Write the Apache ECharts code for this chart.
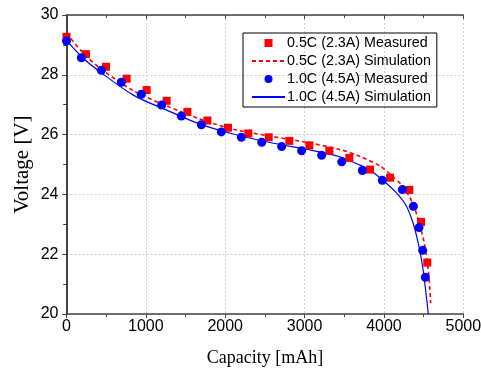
<!DOCTYPE html>
<html><head><meta charset="utf-8">
<script src="https://cdn.jsdelivr.net/npm/echarts@6/dist/echarts.min.js"></script>
<style>html,body{margin:0;padding:0;background:#fff}#c{width:481px;height:370px}</style>
</head><body><div id="c"></div>
<script>
const redMeasX = [0, 246, 498, 758, 1010, 1262, 1523, 1775, 2035, 2291, 2548, 2808, 3060, 3312, 3564, 3825, 4077, 4320, 4467, 4546];
const redMeasY = [29.27, 28.69, 28.27, 27.87, 27.49, 27.13, 26.76, 26.47, 26.23, 26.04, 25.91, 25.79, 25.64, 25.46, 25.22, 24.83, 24.56, 24.15, 23.08, 21.72];
const blueMeasX = [0, 187, 439, 691, 943, 1199, 1447, 1699, 1951, 2203, 2460, 2711, 2963, 3215, 3468, 3728, 3979, 4232, 4371, 4442, 4488, 4522];
const blueMeasY = [29.13, 28.57, 28.15, 27.75, 27.35, 26.99, 26.62, 26.33, 26.09, 25.91, 25.74, 25.60, 25.46, 25.31, 25.09, 24.80, 24.47, 24.16, 23.60, 22.89, 22.13, 21.23];
const redSimX = [0, 200, 422, 842, 1262, 1682, 2102, 2606, 3027, 3446, 3698, 3950, 4100, 4245, 4371, 4446, 4509, 4559, 4589];
const redSimY = [29.39, 28.76, 28.22, 27.47, 26.96, 26.52, 26.18, 25.93, 25.74, 25.50, 25.27, 24.95, 24.62, 24.25, 23.65, 23.03, 22.36, 21.47, 20.36];
const blueSimX = [0, 200, 422, 842, 1262, 1682, 2102, 2606, 3027, 3446, 3698, 3824, 3976, 4140, 4270, 4360, 4433, 4488, 4530, 4559];
const blueSimY = [29.15, 28.58, 28.10, 27.32, 26.82, 26.35, 26.02, 25.71, 25.51, 25.26, 24.98, 24.82, 24.50, 24.10, 23.67, 23.10, 22.36, 21.58, 20.69, 20.0];
const names = ['0.5C (2.3A) Measured', '0.5C (2.3A) Simulation', '1.0C (4.5A) Measured', '1.0C (4.5A) Simulation'];
const xTitle = 'Capacity [mAh]';
const yTitle = 'Voltage [V]';

const zip = (a, b) => a.map((v, i) => [v, b[i]]);
const labelFont = {fontFamily: 'Liberation Sans, Arial, sans-serif', fontSize: 16, color: '#000', formatter: v => String(v)};
const nameFont = {fontFamily: 'Liberation Serif, Times New Roman, serif', color: '#000'};
const hidden = {color: 'rgba(0,0,0,0)', borderWidth: 0, borderColor: 'rgba(0,0,0,0)'};
const chart = echarts.init(document.getElementById('c'), null, {renderer: 'canvas'});
chart.setOption({
  animation: false,
  grid: {left: 66.5, right: 17.7, top: 15, bottom: 56, containLabel: false, outerBoundsMode: 'none'},
  legend: {
    left: 243, top: 33, orient: 'vertical',
    data: [
      {name: names[0], icon: 'path://M0,0h10v10h-10z'},
      {name: names[1], itemStyle: hidden},
      {name: names[2], icon: 'circle'},
      {name: names[3], itemStyle: hidden}
    ],
    symbolKeepAspect: true,
    borderColor: '#000', borderWidth: 1, padding: [3, 6, 3, 8], itemGap: 4,
    itemWidth: 33, itemHeight: 8,
    textStyle: {fontFamily: 'Liberation Sans, Arial, sans-serif', fontSize: 14.3, color: '#000', padding: [0, 0, 0, -3]}
  },
  xAxis: [{
    type: 'value', min: 0, max: 5000, interval: 1000,
    name: xTitle, nameLocation: 'middle', nameGap: 35, nameMoveOverlap: false,
    nameTextStyle: Object.assign({fontSize: 18}, nameFont),
    axisLine: {lineStyle: {color: '#444', width: 1.5}},
    axisTick: {show: true, length: 4, lineStyle: {color: '#444'}},
    minorTick: {show: true, splitNumber: 2, length: 3, lineStyle: {color: '#444'}},
    axisLabel: Object.assign({margin: 5}, labelFont),
    splitLine: {show: true, lineStyle: {color: '#cfcfcf', type: [2, 2], width: 1}}
  }, {
    type: 'value', min: 0, max: 5000, interval: 1000, position: 'top',
    axisLine: {show: true, lineStyle: {color: '#444', width: 1.5}},
    axisTick: {show: true, inside: true, length: 4, lineStyle: {color: '#444'}},
    minorTick: {show: true, splitNumber: 2, length: 3, lineStyle: {color: '#444'}},
    axisLabel: {show: false}, splitLine: {show: false}
  }],
  yAxis: [{
    type: 'value', min: 20, max: 30, interval: 2,
    name: yTitle, nameLocation: 'middle', nameGap: 34, nameRotate: 90, nameMoveOverlap: false,
    nameTextStyle: Object.assign({fontSize: 21}, nameFont),
    axisLine: {show: true, lineStyle: {color: '#000', width: 1.5}},
    axisTick: {show: true, length: 4, lineStyle: {color: '#000'}},
    minorTick: {show: true, splitNumber: 2, length: 3, lineStyle: {color: '#000'}},
    axisLabel: Object.assign({margin: 8}, labelFont),
    splitLine: {show: true, lineStyle: {color: '#cfcfcf', type: [2, 2], width: 1}}
  }, {
    type: 'value', min: 20, max: 30, interval: 2, position: 'right',
    axisLine: {show: true, lineStyle: {color: '#444', width: 1.5}},
    axisTick: {show: true, inside: true, length: 4, lineStyle: {color: '#444'}},
    minorTick: {show: true, splitNumber: 2, length: 3, lineStyle: {color: '#444'}},
    axisLabel: {show: false}, splitLine: {show: false}
  }],
  series: [
    {name: names[1], type: 'line', data: zip(redSimX, redSimY), showSymbol: false, symbol: 'none',
     smooth: 0.3,
     lineStyle: {color: '#ff0000', width: 1.6, type: [4, 3]}, itemStyle: {color: '#ff0000'}, z: 2},
    {name: names[3], type: 'line', data: zip(blueSimX, blueSimY), showSymbol: false, symbol: 'none',
     smooth: 0.3,
     lineStyle: {color: '#0000ff', width: 1.2}, itemStyle: {color: '#0000ff'}, z: 2},
    {name: names[0], type: 'scatter', data: zip(redMeasX, redMeasY), symbol: 'rect', symbolSize: 8,
     itemStyle: {color: '#ff0000', opacity: 1}, z: 3},
    {name: names[2], type: 'scatter', data: zip(blueMeasX, blueMeasY), symbol: 'circle', symbolSize: 9,
     itemStyle: {color: '#0000ff', opacity: 1}, z: 4}
  ]
});
</script></body></html>
